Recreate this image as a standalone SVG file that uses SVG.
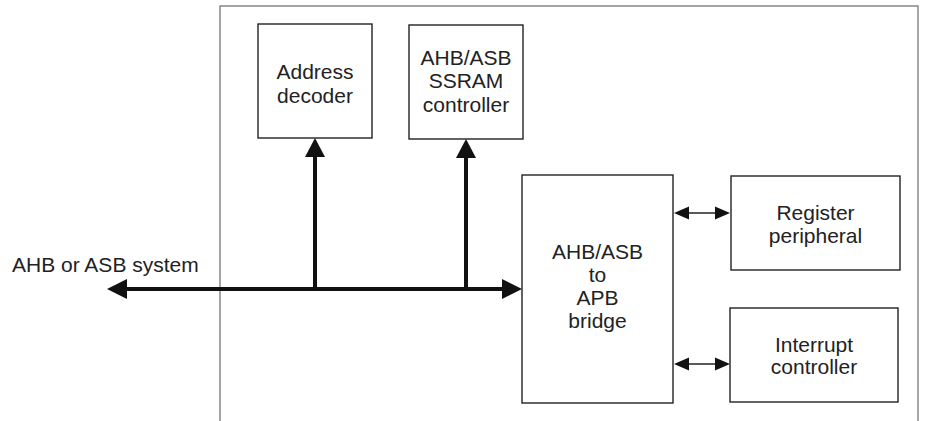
<svg xmlns="http://www.w3.org/2000/svg" width="925" height="421" viewBox="0 0 925 421">
<style>
.box{fill:#fff;stroke:#222;stroke-width:1.4}
.frame{fill:none;stroke:#888;stroke-width:1.5}
.t{font-family:"Liberation Sans",Arial,sans-serif;font-size:21px;fill:#222;text-anchor:middle}
.bus{stroke:#111;stroke-width:4;fill:none}
.thin{stroke:#222;stroke-width:1.5;fill:none}
.head{fill:#111}
</style>
<rect width="925" height="421" fill="#fff"/>
<path class="frame" d="M220,421 V6 H918 V421"/>
<g id="label-system"><text class="t" x="12" y="272" style="text-anchor:start">AHB or ASB system</text></g>
<g id="address-decoder">
<rect class="box" x="258" y="24" width="114" height="114"/>
<text class="t" x="315" y="79">Address</text>
<text class="t" x="315" y="103">decoder</text>
</g>
<g id="ssram-controller">
<rect class="box" x="409" y="25" width="114" height="114"/>
<text class="t" x="466" y="65">AHB/ASB</text>
<text class="t" x="466" y="88">SSRAM</text>
<text class="t" x="466" y="112">controller</text>
</g>
<g id="apb-bridge">
<rect class="box" x="522" y="175" width="151" height="228"/>
<text class="t" x="597.5" y="259">AHB/ASB</text>
<text class="t" x="597.5" y="282">to</text>
<text class="t" x="597.5" y="305">APB</text>
<text class="t" x="597.5" y="328">bridge</text>
</g>
<g id="register-peripheral">
<rect class="box" x="731" y="176" width="169" height="94"/>
<text class="t" x="815.5" y="220">Register</text>
<text class="t" x="815.5" y="243">peripheral</text>
</g>
<g id="interrupt-controller">
<rect class="box" x="730" y="308" width="168" height="94"/>
<text class="t" x="814" y="352">Interrupt</text>
<text class="t" x="814" y="374">controller</text>
</g>
<g id="connectors">
<line class="bus" x1="124" y1="289" x2="505" y2="289"/>
<polygon class="head" points="107,289 127,279 127,299"/>
<polygon class="head" points="522,289 502,279 502,299"/>
<line class="bus" x1="315" y1="291" x2="315" y2="155"/>
<polygon class="head" points="315,138 305,157 325,157"/>
<line class="bus" x1="466" y1="291" x2="466" y2="155"/>
<polygon class="head" points="466,139 456,158 476,158"/>
<line class="thin" x1="686" y1="213" x2="718" y2="213"/>
<polygon class="head" points="674,213 689,206.5 689,219.5"/>
<polygon class="head" points="730,213 715,206.5 715,219.5"/>
<line class="thin" x1="686" y1="364" x2="718" y2="364"/>
<polygon class="head" points="674,364 689,357.5 689,370.5"/>
<polygon class="head" points="730,364 715,357.5 715,370.5"/>
</g>
</svg>
